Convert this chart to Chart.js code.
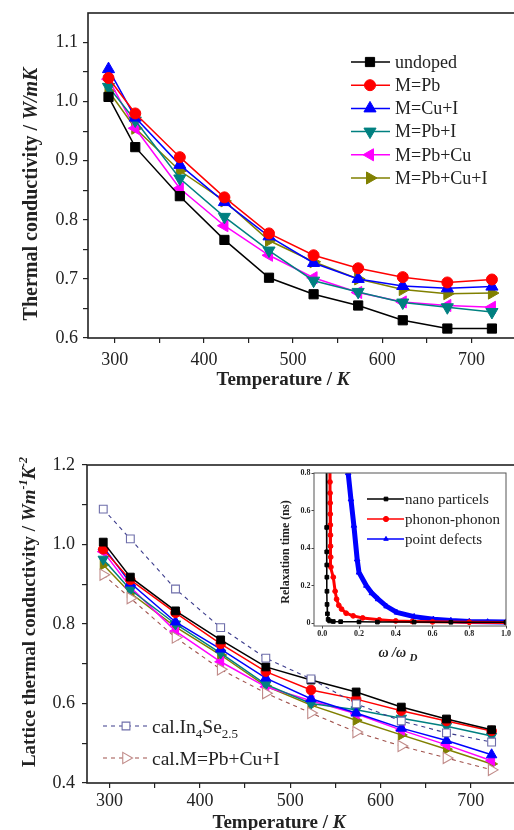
<!DOCTYPE html>
<html>
<head>
<meta charset="utf-8">
<script src="https://cdn.jsdelivr.net/npm/chart.js@4/dist/chart.umd.min.js"></script>
<style>
  html, body { margin: 0; padding: 0; background: #fff; width: 514px; height: 830px; overflow: hidden; }
  canvas { position: absolute; }
  #totalChart { left: 0; top: 0; }
  #latticeChart { left: 0; top: 430px; }
  #insetChart { left: 274px; top: 462px; }
</style>
</head>
<body>
<canvas id="totalChart" width="530" height="400"></canvas>
<canvas id="latticeChart" width="530" height="400"></canvas>
<canvas id="insetChart" width="240" height="200"></canvas>
<script>
// ---------- data ----------
const temperatures = [293, 323, 373, 423, 473, 523, 573, 623, 673, 723];

// total thermal conductivity, W/mK
const totalUndoped = [1.008, 0.923, 0.840, 0.766, 0.702, 0.674, 0.655, 0.630, 0.616, 0.616];
const totalPb      = [1.040, 0.980, 0.906, 0.838, 0.777, 0.740, 0.718, 0.703, 0.694, 0.699];
const totalCuI     = [1.055, 0.973, 0.893, 0.830, 0.772, 0.727, 0.700, 0.688, 0.684, 0.687];
const totalPbI     = [1.025, 0.968, 0.870, 0.805, 0.748, 0.697, 0.678, 0.660, 0.652, 0.644];
const totalPbCu    = [1.038, 0.955, 0.853, 0.790, 0.740, 0.702, 0.677, 0.661, 0.655, 0.652];
const totalPbCuI   = [1.018, 0.955, 0.883, 0.832, 0.765, 0.729, 0.700, 0.682, 0.675, 0.676];

// lattice thermal conductivity, W m^-1 K^-2
const latticeUndoped = [1.006, 0.918, 0.833, 0.760, 0.692, 0.659, 0.629, 0.591, 0.561, 0.534];
const latticePb      = [0.988, 0.911, 0.828, 0.750, 0.680, 0.634, 0.611, 0.582, 0.556, 0.531];
const latticeCuI     = [0.994, 0.903, 0.805, 0.737, 0.664, 0.612, 0.576, 0.538, 0.507, 0.471];
const latticePbI     = [0.963, 0.886, 0.800, 0.727, 0.648, 0.600, 0.584, 0.563, 0.543, 0.518];
const latticePbCu    = [0.982, 0.893, 0.782, 0.705, 0.642, 0.607, 0.574, 0.533, 0.496, 0.456];
const latticePbCuI   = [0.949, 0.878, 0.793, 0.722, 0.644, 0.596, 0.558, 0.521, 0.485, 0.448];
const calcIn4Se      = [1.089, 1.014, 0.888, 0.791, 0.714, 0.662, 0.599, 0.556, 0.526, 0.503];
const calcPbCuI      = [0.924, 0.865, 0.766, 0.686, 0.626, 0.576, 0.528, 0.493, 0.463, 0.433];

// relaxation times (ns) against reduced frequency
const nanoOmega   = [0.022, 0.024, 0.0243, 0.0246, 0.025, 0.0255, 0.026, 0.028, 0.032, 0.04, 0.06, 0.1, 0.2, 0.3, 0.5, 0.7, 1.0];
const nanoTau     = [0.95, 0.51, 0.38, 0.31, 0.245, 0.17, 0.10, 0.05, 0.02, 0.012, 0.009, 0.008, 0.007, 0.006, 0.006, 0.005, 0.005];
const phononOmega = [0.040, 0.042, 0.0425, 0.043, 0.0435, 0.044, 0.0445, 0.045, 0.046, 0.047, 0.06, 0.07, 0.078, 0.09, 0.105, 0.13, 0.168, 0.22, 0.31, 0.4, 0.49, 0.6, 0.8, 1.0];
const phononTau   = [0.95, 0.752, 0.693, 0.64, 0.581, 0.523, 0.469, 0.41, 0.352, 0.299, 0.245, 0.17, 0.128, 0.095, 0.075, 0.053, 0.039, 0.028, 0.018, 0.012, 0.009, 0.007, 0.005, 0.004];
const defectOmega = [0.135, 0.141, 0.156, 0.172, 0.19, 0.2, 0.24, 0.27, 0.304, 0.35, 0.406, 0.5, 0.605, 0.7, 0.8, 0.9, 1.0];
const defectTau   = [0.9, 0.8, 0.66, 0.52, 0.34, 0.27, 0.2, 0.16, 0.128, 0.09, 0.057, 0.035, 0.021, 0.014, 0.009, 0.007, 0.006];

// tick positions
const tempMajorTicks = [300, 400, 500, 600, 700];
const tempMinorTicks = [350, 450, 550, 650];
const totalMajorTicks = [0.6, 0.7, 0.8, 0.9, 1.0, 1.1];
const totalMinorTicks = [0.65, 0.75, 0.85, 0.95, 1.05];
const latticeMajorTicks = [0.4, 0.6, 0.8, 1.0, 1.2];
const latticeMinorTicks = [0.5, 0.7, 0.9, 1.1];
const insetXTicks = [0.0, 0.2, 0.4, 0.6, 0.8, 1.0];
const insetYTicks = [0, 0.2, 0.4, 0.6, 0.8];

// ---------- styling ----------
const SERIF = "'Liberation Serif', 'Times New Roman', serif";
Chart.defaults.font.family = SERIF;
const INK = '#222';

const sampleStyles = [
  { label: 'undoped',   color: '#000000', shape: 'rect',     rot: 0 },
  { label: 'M=Pb',      color: '#ff0000', shape: 'circle',   rot: 0 },
  { label: 'M=Cu+I',    color: '#0000ff', shape: 'triangle', rot: 0 },
  { label: 'M=Pb+I',    color: '#008080', shape: 'triangle', rot: 180 },
  { label: 'M=Pb+Cu',   color: '#ff00ff', shape: 'triangle', rot: 270 },
  { label: 'M=Pb+Cu+I', color: '#808000', shape: 'triangle', rot: 90 }
];
const markerSize = {
  total:   { rect: 6.5, circle: 5.5, triangle: 7 },
  lattice: { rect: 5.5, circle: 4.8, triangle: 6 }
};

function points(xs, ys) { return xs.map((x, i) => ({ x: x, y: ys[i] })); }

function sampleDataset(style, values, sizes) {
  return {
    label: style.label,
    data: points(temperatures, values),
    borderColor: style.color,
    backgroundColor: style.color,
    borderWidth: 1.5,
    pointStyle: style.shape,
    pointRotation: style.rot,
    pointRadius: sizes[style.shape],
    pointBackgroundColor: style.color,
    pointBorderColor: style.color,
    pointBorderWidth: 1,
    tension: 0
  };
}

// draw a run of text pieces (mixed fonts, sub/superscripts) centred on (x, y)
function drawRich(ctx, parts, x, y, rotated) {
  ctx.save();
  ctx.translate(x, y);
  if (rotated) ctx.rotate(-Math.PI / 2);
  ctx.fillStyle = INK;
  ctx.textBaseline = 'alphabetic';
  let total = 0;
  parts.forEach(p => { ctx.font = p.font; p.w = ctx.measureText(p.text).width; total += p.w; });
  let cx = -total / 2;
  parts.forEach(p => {
    ctx.font = p.font;
    ctx.fillText(p.text, cx, p.dy || 0);
    cx += p.w;
  });
  ctx.restore();
}

function drawLegendRow(ctx, ds, x1, x2, mx, y, radius) {
  ctx.save();
  ctx.strokeStyle = ds.borderColor;
  ctx.lineWidth = Math.min(ds.borderWidth, 1.5);
  ctx.setLineDash(ds.borderDash || []);
  ctx.beginPath(); ctx.moveTo(x1, y); ctx.lineTo(x2, y); ctx.stroke();
  ctx.setLineDash([]);
  ctx.fillStyle = ds.pointBackgroundColor;
  ctx.strokeStyle = ds.pointBorderColor;
  ctx.lineWidth = ds.pointBorderWidth;
  Chart.helpers.drawPoint(ctx, {
    pointStyle: ds.pointStyle, rotation: ds.pointRotation || 0,
    radius: radius || ds.pointRadius, borderWidth: ds.pointBorderWidth
  }, mx, y);
  ctx.restore();
}

function frameAround(chart, color, width) {
  const a = chart.chartArea, ctx = chart.ctx;
  ctx.save();
  ctx.strokeStyle = color; ctx.lineWidth = width;
  ctx.strokeRect(a.left, a.top, a.right - a.left, a.bottom - a.top);
  ctx.restore();
}

function fixedBox(size, horizontal) {
  return function (scale) {
    if (horizontal) scale.height = size; else scale.width = size;
    scale.paddingTop = 0; scale.paddingBottom = 0; scale.paddingLeft = 0; scale.paddingRight = 0;
  };
}

function setTicks(values) {
  return function (scale) { scale.ticks = values.map(v => ({ value: v })); };
}

function isMajor(v, majors) { return majors.some(m => Math.abs(m - v) < 1e-9); }

function mainScales(o) {
  return {
    x: {
      type: 'linear', min: o.xMin, max: o.xMax,
      afterBuildTicks: setTicks(tempMajorTicks.concat(tempMinorTicks).sort((a, b) => a - b)),
      afterFit: fixedBox(o.xHeight, true),
      ticks: {
        autoSkip: false, maxRotation: 0, color: INK, padding: o.xPad,
        font: { family: SERIF, size: 18 },
        callback: v => isMajor(v, tempMajorTicks) ? String(v) : ''
      },
      grid: { drawOnChartArea: false, drawTicks: true, tickLength: 5, color: INK, lineWidth: 1.2 },
      border: { display: false }
    },
    y: {
      type: 'linear', min: o.yMin, max: o.yMax,
      afterBuildTicks: setTicks(o.yMajor.concat(o.yMinor).sort((a, b) => a - b)),
      afterFit: fixedBox(o.yWidth, false),
      ticks: {
        autoSkip: false, color: INK, padding: o.yPad,
        font: { family: SERIF, size: 18 },
        callback: v => isMajor(v, o.yMajor) ? Number(v).toFixed(1) : ''
      },
      grid: { drawOnChartArea: false, drawTicks: true, tickLength: 5, color: INK, lineWidth: 1.2 },
      border: { display: false }
    }
  };
}

const baseOptions = {
  responsive: false, animation: false, devicePixelRatio: 1,
  plugins: { legend: { display: false }, tooltip: { enabled: false } }
};

// ---------- total thermal conductivity ----------
const totalSeries = [totalUndoped, totalPb, totalCuI, totalPbI, totalPbCu, totalPbCuI];
const totalDatasets = sampleStyles.map((s, i) => sampleDataset(s, totalSeries[i], markerSize.total));

new Chart(document.getElementById('totalChart'), {
  type: 'line',
  data: { datasets: totalDatasets },
  options: Object.assign({}, baseOptions, {
    layout: { padding: { top: 13, right: 14, left: 0, bottom: 0 } },
    scales: mainScales({
      xMin: 270, xMax: 750, xHeight: 62, xPad: 6,
      yMin: 0.6, yMax: 1.15, yWidth: 88, yPad: 5,
      yMajor: totalMajorTicks, yMinor: totalMinorTicks
    })
  }),
  plugins: [{
    id: 'totalDecor',
    afterDraw(chart) {
      const ctx = chart.ctx;
      frameAround(chart, INK, 1.6);
      chart.data.datasets.forEach((ds, i) => {
        const y = 62 + i * 23.2;
        drawLegendRow(ctx, ds, 351, 390, 370, y);
        ctx.save();
        ctx.fillStyle = INK; ctx.font = '18px ' + SERIF; ctx.textBaseline = 'middle';
        ctx.fillText(ds.label, 395, y + 1);
        ctx.restore();
      });
      drawRich(ctx, [
        { text: 'Temperature / ', font: 'bold 19px ' + SERIF },
        { text: 'K', font: 'italic bold 19px ' + SERIF }
      ], 283, 385, false);
      drawRich(ctx, [
        { text: 'Thermal conductivity / ', font: 'bold 20px ' + SERIF },
        { text: 'W/mK', font: 'italic bold 20px ' + SERIF }
      ], 37, 194, true);
    }
  }]
});

// ---------- lattice thermal conductivity ----------
const latticeSeries = [latticeUndoped, latticePb, latticeCuI, latticePbI, latticePbCu, latticePbCuI];
const calcDatasets = [
  {
    label: 'cal.In4Se2.5', data: points(temperatures, calcIn4Se),
    borderColor: '#3c3c8c', borderWidth: 1.1, borderDash: [4, 4],
    pointStyle: 'rect', pointRadius: 5.5, pointRotation: 0,
    pointBackgroundColor: '#ffffff', pointBorderColor: '#6e6eaa', pointBorderWidth: 1.1, tension: 0
  },
  {
    label: 'cal.M=Pb+Cu+I', data: points(temperatures, calcPbCuI),
    borderColor: '#a0524c', borderWidth: 1.1, borderDash: [4, 4],
    pointStyle: 'triangle', pointRadius: 6.5, pointRotation: 90,
    pointBackgroundColor: '#ffffff', pointBorderColor: '#c08a88', pointBorderWidth: 1.1, tension: 0
  }
];
const latticeDatasets = calcDatasets.concat(
  sampleStyles.map((s, i) => sampleDataset(s, latticeSeries[i], markerSize.lattice))
);

new Chart(document.getElementById('latticeChart'), {
  type: 'line',
  data: { datasets: latticeDatasets },
  options: Object.assign({}, baseOptions, {
    layout: { padding: { top: 35, right: 14, left: 0, bottom: 0 } },
    scales: mainScales({
      xMin: 275, xMax: 750, xHeight: 47, xPad: 2,
      yMin: 0.4, yMax: 1.2, yWidth: 87, yPad: 7,
      yMajor: latticeMajorTicks, yMinor: latticeMinorTicks
    })
  }),
  plugins: [{
    id: 'latticeDecor',
    afterDraw(chart) {
      const ctx = chart.ctx;
      frameAround(chart, INK, 1.6);
      // legend for the calculated curves
      const rows = [
        { ds: chart.data.datasets[0], y: 296, text: [
          { t: 'cal.In', s: 19.5, dy: 0 }, { t: '4', s: 13, dy: 5 },
          { t: 'Se', s: 19.5, dy: 0 }, { t: '2.5', s: 13, dy: 5 } ] },
        { ds: chart.data.datasets[1], y: 328, text: [ { t: 'cal.M=Pb+Cu+I', s: 19.5, dy: 0 } ] }
      ];
      rows.forEach(r => {
        drawLegendRow(ctx, r.ds, 103, 148, 126, r.y);
        ctx.save();
        ctx.fillStyle = INK; ctx.textBaseline = 'alphabetic';
        let x = 152;
        r.text.forEach(p => {
          ctx.font = p.s + 'px ' + SERIF;
          ctx.fillText(p.t, x, r.y + 6.5 + p.dy);
          x += ctx.measureText(p.t).width;
        });
        ctx.restore();
      });
      drawRich(ctx, [
        { text: 'Temperature / ', font: 'bold 19px ' + SERIF },
        { text: 'K', font: 'italic bold 19px ' + SERIF }
      ], 279, 398, false);
      drawRich(ctx, [
        { text: 'Lattice thermal conductivity / ', font: 'bold 19px ' + SERIF },
        { text: 'Wm', font: 'italic bold 19px ' + SERIF },
        { text: '-1', font: 'italic bold 12px ' + SERIF, dy: -8 },
        { text: 'K', font: 'italic bold 19px ' + SERIF },
        { text: '-2', font: 'italic bold 12px ' + SERIF, dy: -8 }
      ], 35, 182, true);
    }
  }]
});

// ---------- relaxation time inset ----------
const insetDatasets = [
  {
    label: 'nano particels', data: points(nanoOmega, nanoTau),
    borderColor: '#000000', borderWidth: 1.5,
    pointStyle: 'rect', pointRadius: 2.6, pointBackgroundColor: '#000000',
    pointBorderColor: '#000000', pointBorderWidth: 1, tension: 0
  },
  {
    label: 'phonon-phonon', data: points(phononOmega, phononTau),
    borderColor: '#ff0000', borderWidth: 3,
    pointStyle: 'circle', pointRadius: 2.4, pointBackgroundColor: '#ff0000',
    pointBorderColor: '#ff0000', pointBorderWidth: 1, tension: 0
  },
  {
    label: 'point defects', data: points(defectOmega, defectTau),
    borderColor: '#0000ff', borderWidth: 5,
    pointStyle: 'triangle', pointRadius: 3.2, pointBackgroundColor: '#0000ff',
    pointBorderColor: '#0000ff', pointBorderWidth: 1, tension: 0
  }
];

new Chart(document.getElementById('insetChart'), {
  type: 'line',
  data: { datasets: insetDatasets },
  options: Object.assign({}, baseOptions, {
    layout: { padding: { top: 11, right: 8, left: 0, bottom: 0 } },
    scales: {
      x: {
        type: 'linear', min: -0.045, max: 1.0,
        afterBuildTicks: setTicks(insetXTicks),
        afterFit: fixedBox(36, true),
        ticks: {
          autoSkip: false, maxRotation: 0, color: INK, padding: 1,
          font: { family: SERIF, size: 8, weight: 'bold' },
          callback: v => Number(v).toFixed(1)
        },
        grid: { drawOnChartArea: false, drawTicks: true, tickLength: 2.5, color: '#444', lineWidth: 1 },
        border: { display: false }
      },
      y: {
        type: 'linear', min: -0.015, max: 0.8,
        afterBuildTicks: setTicks(insetYTicks),
        afterFit: fixedBox(40, false),
        ticks: {
          autoSkip: false, color: INK, padding: 1,
          font: { family: SERIF, size: 8, weight: 'bold' },
          callback: v => v === 0 ? '0' : Number(v).toFixed(1)
        },
        grid: { drawOnChartArea: false, drawTicks: true, tickLength: 2.5, color: '#444', lineWidth: 1 },
        border: { display: false }
      }
    }
  }),
  plugins: [{
    id: 'insetDecor',
    afterDraw(chart) {
      const ctx = chart.ctx;
      frameAround(chart, '#555', 1);
      chart.data.datasets.forEach((ds, i) => {
        const y = 37 + i * 20;
        drawLegendRow(ctx, ds, 93, 130, 112, y, 2.6);
        ctx.save();
        ctx.fillStyle = INK; ctx.font = '15px ' + SERIF; ctx.textBaseline = 'middle';
        ctx.fillText(ds.label, 131, y + 1);
        ctx.restore();
      });
      drawRich(ctx, [
        { text: 'Relaxation time (ns)', font: 'bold 12px ' + SERIF }
      ], 15, 90, true);
      drawRich(ctx, [
        { text: '\u03c9 /\u03c9 ', font: 'italic bold 14px ' + SERIF },
        { text: 'D', font: 'italic bold 11px ' + SERIF, dy: 4 }
      ], 124, 195, false);
    }
  }]
});
</script>
</body>
</html>
